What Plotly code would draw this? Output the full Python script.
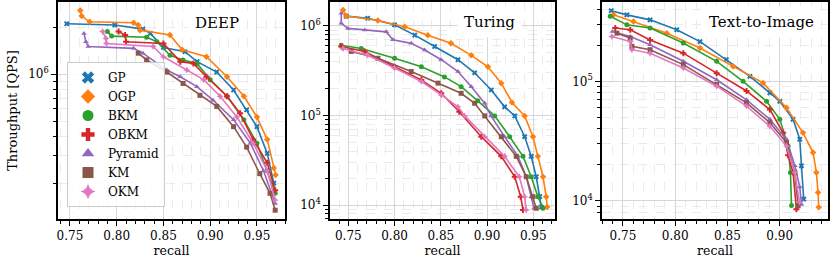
import plotly.graph_objects as go

# ---------------- data ----------------
methods = ["GP", "OGP", "BKM", "OBKM", "Pyramid", "KM", "OKM"]
colors = ["#1f77b4", "#ff7f0e", "#2ca02c", "#d62728", "#9467bd", "#8c564b", "#e377c2"]
symbols = ["x", "diamond", "circle", "cross", "triangle-up", "square", "star-diamond"]
panel_titles = ["DEEP", "Turing", "Text-to-Image"]

# DEEP
deep_gp_recall = [0.7465, 0.798, 0.828, 0.836, 0.850, 0.873, 0.886, 0.907, 0.925, 0.939, 0.950, 0.961, 0.968]
deep_gp_qps = [2.1e6, 2.06e6, 1.94e6, 1.82e6, 1.48e6, 1.39e6, 1.2e6, 1.03e6, 7.9e5, 5.9e5, 4.6e5, 3.1e5, 2.0e5]
deep_ogp_recall = [0.761, 0.7625, 0.771, 0.818, 0.823, 0.825, 0.857, 0.870, 0.896, 0.918, 0.936, 0.950, 0.961, 0.968, 0.970]
deep_ogp_qps = [2.55e6, 2.35e6, 2.16e6, 2.13e6, 2.06e6, 1.91e6, 1.78e6, 1.43e6, 1.29e6, 9.6e5, 7.2e5, 5.3e5, 3.8e5, 2.5e5, 2.25e5]
deep_bkm_recall = [0.790, 0.7946, 0.832, 0.843, 0.857, 0.871, 0.886, 0.900, 0.918, 0.936, 0.950, 0.961, 0.9695]
deep_bkm_qps = [1.87e6, 1.75e6, 1.72e6, 1.61e6, 1.32e6, 1.23e6, 1.17e6, 9.2e5, 7.2e5, 5.1e5, 3.6e5, 2.4e5, 1.72e5]
deep_obkm_recall = [0.802, 0.809, 0.810, 0.850, 0.868, 0.882, 0.896, 0.918, 0.932, 0.946, 0.961, 0.9695]
deep_obkm_qps = [1.87e6, 1.78e6, 1.61e6, 1.57e6, 1.2e6, 1.17e6, 9.6e5, 7.2e5, 5.6e5, 3.8e5, 2.7e5, 1.8e5]
deep_pyr_recall = [0.765, 0.767, 0.7696, 0.818, 0.828, 0.8535, 0.868, 0.8857, 0.903, 0.925, 0.943, 0.957, 0.9695]
deep_pyr_qps = [1.82e6, 1.61e6, 1.5e6, 1.46e6, 1.36e6, 1.06e6, 9.6e5, 8.3e5, 6.8e5, 5.1e5, 3.6e5, 2.4e5, 1.48e5]
deep_km_recall = [0.823, 0.832, 0.8535, 0.871, 0.889, 0.907, 0.925, 0.939, 0.953, 0.964, 0.9695]
deep_km_qps = [1.36e6, 1.23e6, 1.03e6, 8.7e5, 7.3e5, 6.2e5, 4.6e5, 3.4e5, 2.3e5, 1.72e5, 1.34e5]
deep_okm_recall = [0.785, 0.7885, 0.789, 0.839, 0.850, 0.875, 0.893, 0.9106, 0.9285, 0.946, 0.961, 0.9695]
deep_okm_qps = [1.87e6, 1.69e6, 1.57e6, 1.5e6, 1.29e6, 1.06e6, 9.2e5, 7.2e5, 5.3e5, 3.6e5, 2.4e5, 1.56e5]

# Turing
tur_gp_recall = [0.7478, 0.771, 0.800, 0.8218, 0.8434, 0.8686, 0.8866, 0.9046, 0.919, 0.930, 0.9407, 0.9478, 0.9532, 0.957, 0.9587]
tur_gp_qps = [1.29e6, 1.22e6, 1.03e6, 7.9e5, 5.9e5, 4.2e5, 3.0e5, 1.93e5, 1.25e5, 9.9e4, 5.8e4, 3.5e4, 2.07e4, 1.24e4, 9.5e3]
tur_ogp_recall = [0.7443, 0.7478, 0.782, 0.811, 0.836, 0.861, 0.883, 0.901, 0.9154, 0.927, 0.9407, 0.9497, 0.955, 0.9605, 0.964, 0.965]
tur_ogp_qps = [1.51e6, 1.29e6, 1.15e6, 9.8e5, 7.9e5, 6.4e5, 4.7e5, 3.5e5, 2.3e5, 1.4e5, 9.9e4, 5.8e4, 3.5e4, 2.07e4, 1.24e4, 9.5e3]
tur_bkm_recall = [0.7424, 0.764, 0.800, 0.829, 0.854, 0.872, 0.890, 0.9083, 0.9245, 0.9389, 0.9478, 0.955, 0.9605]
tur_bkm_qps = [6.1e5, 5.6e5, 4.36e5, 3.5e5, 2.7e5, 2.1e5, 1.46e5, 9.9e4, 5.8e4, 3.5e4, 2.07e4, 1.24e4, 9.2e3]
tur_obkm_recall = [0.7424, 0.7677, 0.800, 0.829, 0.8505, 0.870, 0.8938, 0.9154, 0.930, 0.9364, 0.9389]
tur_obkm_qps = [5.9e5, 5.2e5, 3.5e5, 2.5e5, 1.77e5, 1.1e5, 5.8e4, 3.5e4, 2.07e4, 1.24e4, 8.8e3]
tur_pyr_recall = [0.7424, 0.7424, 0.7497, 0.7677, 0.791, 0.7983, 0.818, 0.8326, 0.8505, 0.8686, 0.883, 0.8975, 0.9043, 0.919, 0.9335, 0.9424, 0.9478, 0.9508]
tur_pyr_qps = [1.39e6, 1.07e6, 9.4e5, 9.0e5, 8.6e5, 7.0e5, 6.4e5, 5.4e5, 4.2e5, 3.1e5, 2.1e5, 1.37e5, 9.9e4, 5.8e4, 3.5e4, 2.07e4, 1.24e4, 9.2e3]
tur_km_recall = [0.7532, 0.782, 0.818, 0.847, 0.872, 0.8866, 0.8975, 0.9154, 0.9316, 0.9424, 0.9497, 0.9532]
tur_km_qps = [5.2e5, 4.36e5, 3.1e5, 2.3e5, 1.77e5, 1.37e5, 9.9e4, 5.8e4, 3.5e4, 2.07e4, 1.24e4, 9.2e3]
tur_okm_recall = [0.7443, 0.771, 0.800, 0.829, 0.8505, 0.8686, 0.8758, 0.8975, 0.919, 0.935, 0.9407, 0.9424]
tur_okm_qps = [5.6e5, 4.7e5, 3.4e5, 2.4e5, 1.7e5, 1.25e5, 9.9e4, 5.8e4, 3.5e4, 2.07e4, 1.24e4, 8.8e3]

# Text-to-Image
t2i_gp_recall = [0.7388, 0.7538, 0.776, 0.8015, 0.8238, 0.849, 0.8715, 0.8906, 0.9001, 0.9128, 0.9192, 0.9208, 0.923]
t2i_gp_qps = [3.9e5, 3.6e5, 3.27e5, 2.7e5, 2.15e5, 1.52e5, 1.1e5, 8.0e4, 6.8e4, 4.8e4, 3.27e4, 1.96e4, 1.03e4]
t2i_ogp_recall = [0.741, 0.760, 0.792, 0.8238, 0.8555, 0.884, 0.9065, 0.9223, 0.9319, 0.9351, 0.9367, 0.9373]
t2i_ogp_qps = [3.6e5, 3.16e5, 2.53e5, 1.9e5, 1.33e5, 9.7e4, 6.0e4, 3.7e4, 2.53e4, 1.72e4, 1.17e4, 8.8e3]
t2i_bkm_recall = [0.7379, 0.7538, 0.776, 0.8078, 0.8397, 0.865, 0.8874, 0.9001, 0.908, 0.9103, 0.9113]
t2i_bkm_qps = [3.5e5, 2.97e5, 2.79e5, 2.09e5, 1.47e5, 1.0e5, 6.8e4, 4.8e4, 2.87e4, 1.72e4, 9.1e3]
t2i_obkm_recall = [0.7427, 0.757, 0.776, 0.8078, 0.8397, 0.8683, 0.8906, 0.9033, 0.908, 0.9128, 0.916]
t2i_obkm_qps = [2.79e5, 2.7e5, 2.22e5, 1.72e5, 1.17e5, 8.3e4, 5.8e4, 3.7e4, 2.4e4, 1.72e4, 8.5e3]
t2i_pyr_recall = [0.740, 0.757, 0.776, 0.8078, 0.8397, 0.8683, 0.8906, 0.9065, 0.9145, 0.9192, 0.9208]
t2i_pyr_qps = [2.61e5, 2.37e5, 2.02e5, 1.47e5, 1.03e5, 7.0e4, 4.8e4, 3.27e4, 1.96e4, 1.3e4, 9.3e3]
t2i_km_recall = [0.7443, 0.757, 0.7586, 0.776, 0.8078, 0.8397, 0.8683, 0.8906, 0.9065, 0.9145, 0.9176]
t2i_km_qps = [2.53e5, 2.3e5, 1.96e5, 1.84e5, 1.38e5, 9.4e4, 6.6e4, 4.5e4, 3.07e4, 1.72e4, 9.1e3]
t2i_okm_recall = [0.7395, 0.757, 0.7586, 0.776, 0.8078, 0.8397, 0.8683, 0.8906, 0.9065, 0.9145, 0.919]
t2i_okm_qps = [2.37e5, 2.15e5, 1.84e5, 1.72e5, 1.29e5, 9.1e4, 6.2e4, 4.2e4, 2.87e4, 1.72e4, 9.7e3]

panels = [
    [(deep_gp_recall, deep_gp_qps), (deep_ogp_recall, deep_ogp_qps), (deep_bkm_recall, deep_bkm_qps),
     (deep_obkm_recall, deep_obkm_qps), (deep_pyr_recall, deep_pyr_qps), (deep_km_recall, deep_km_qps),
     (deep_okm_recall, deep_okm_qps)],
    [(tur_gp_recall, tur_gp_qps), (tur_ogp_recall, tur_ogp_qps), (tur_bkm_recall, tur_bkm_qps),
     (tur_obkm_recall, tur_obkm_qps), (tur_pyr_recall, tur_pyr_qps), (tur_km_recall, tur_km_qps),
     (tur_okm_recall, tur_okm_qps)],
    [(t2i_gp_recall, t2i_gp_qps), (t2i_ogp_recall, t2i_ogp_qps), (t2i_bkm_recall, t2i_bkm_qps),
     (t2i_obkm_recall, t2i_obkm_qps), (t2i_pyr_recall, t2i_pyr_qps), (t2i_km_recall, t2i_km_qps),
     (t2i_okm_recall, t2i_okm_qps)],
]

# ---------------- layout geometry ----------------
W, H = 830, 260
FONT = "DejaVu Serif"
x_domains = [[58 / W, 285 / W], [330 / W, 555 / W], [602 / W, 828 / W]]
y_domain = [1 - 219 / H, 1 - 2 / H]
x_ranges = [[0.7372, 0.980], [0.7302, 0.9735], [0.730, 0.9462]]
y_ranges = [[5.071, 6.4615], [3.844, 6.268], [3.847, 5.664]]
y_major = [[1e6], [1e4, 1e5, 1e6], [1e4, 1e5]]
y_major_text = [["10<sup>6</sup>"], ["10<sup>4</sup>", "10<sup>5</sup>", "10<sup>6</sup>"],
                ["10<sup>4</sup>", "10<sup>5</sup>"]]
minor_vals = [d * 10 ** e for e in range(3, 7) for d in range(2, 10)]
title_pos = [(217, 23), (489, 22), (761, 22)]

fig = go.Figure()

for p in range(3):
    xa = "x" if p == 0 else f"x{p + 1}"
    ya = "y" if p == 0 else f"y{p + 1}"
    for i, (rx, qy) in enumerate(panels[p]):
        fig.add_trace(go.Scatter(
            x=rx, y=qy, mode="lines+markers", xaxis=xa, yaxis=ya,
            line=dict(color=colors[i], width=1.6),
            marker=dict(symbol=symbols[i], size=5, color=colors[i], line=dict(width=0)),
            showlegend=False, name=methods[i]))

# legend-only entries (marker-only handles)
for i, m in enumerate(methods):
    fig.add_trace(go.Scatter(
        x=[None], y=[None], mode="markers", xaxis="x", yaxis="y", name=m,
        marker=dict(symbol=symbols[i], size=11, color=colors[i], line=dict(width=0)),
        showlegend=True))

tickfont = dict(family=FONT, size=12, color="black")
layout = dict(
    width=W, height=H, margin=dict(l=0, r=0, t=0, b=0),
    paper_bgcolor="white", plot_bgcolor="white",
    font=dict(family=FONT, size=12, color="black"),
    legend=dict(x=67 / W, y=1 - 207 / H, xanchor="left", yanchor="bottom",
                bgcolor="rgba(255,255,255,0.85)", bordercolor="#cccccc", borderwidth=1,
                font=dict(family=FONT, size=12, color="black"), itemsizing="trace",
                tracegroupgap=0),
    annotations=[],
)

for p in range(3):
    xkey = "xaxis" if p == 0 else f"xaxis{p + 1}"
    ykey = "yaxis" if p == 0 else f"yaxis{p + 1}"
    xname = "x" if p == 0 else f"x{p + 1}"
    yname = "y" if p == 0 else f"y{p + 1}"
    layout[xkey] = dict(
        domain=x_domains[p], range=x_ranges[p], anchor=yname, automargin=False,
        showline=True, linecolor="black", linewidth=1.5, mirror=True,
        ticks="outside", ticklen=5, tickwidth=1, tickcolor="black",
        tick0=0, dtick=0.05, tickformat=".2f", tickfont=tickfont,
        showgrid=True, gridcolor="#d6d6d6", gridwidth=1, zeroline=False,
        minor=dict(tick0=0, dtick=0.01, ticks="outside", ticklen=3, tickwidth=1,
                   tickcolor="black", showgrid=True, gridcolor="#ebebeb", griddash="dash"),
        title=dict(text="recall", font=dict(family=FONT, size=12.5, color="black"), standoff=2),
    )
    ytitle = dict(text="Throughput [QPS]", font=dict(family=FONT, size=13, color="black"),
                  standoff=8) if p == 0 else None
    ydict = dict(
        domain=y_domain, range=y_ranges[p], type="log", anchor=xname, automargin=False,
        showline=True, linecolor="black", linewidth=1.5, mirror=True,
        ticks="outside", ticklen=5, tickwidth=1, tickcolor="black",
        tickmode="array", tickvals=y_major[p], ticktext=y_major_text[p], tickfont=tickfont,
        showgrid=True, gridcolor="#d6d6d6", gridwidth=1, zeroline=False,
        minor=dict(tickmode="array", tickvals=minor_vals, ticks="outside", ticklen=3, tickwidth=1,
                   tickcolor="black", showgrid=True, gridcolor="#ebebeb", griddash="dash"),
    )
    if ytitle:
        ydict["title"] = ytitle
    layout[ykey] = ydict
    tx, ty = title_pos[p]
    layout["annotations"].append(dict(
        text=panel_titles[p], x=tx / W, y=1 - ty / H, xref="paper", yref="paper",
        xanchor="center", yanchor="middle", showarrow=False,
        font=dict(family=FONT, size=15, color="black"),
        bgcolor="white", borderpad=6))

fig.update_layout(**layout)
# remove the browser's default page margin so the figure sits at the window's top-left corner
fig.write_html("out.html", config={"displayModeBar": False},
               post_script="document.body.style.margin='0';")
